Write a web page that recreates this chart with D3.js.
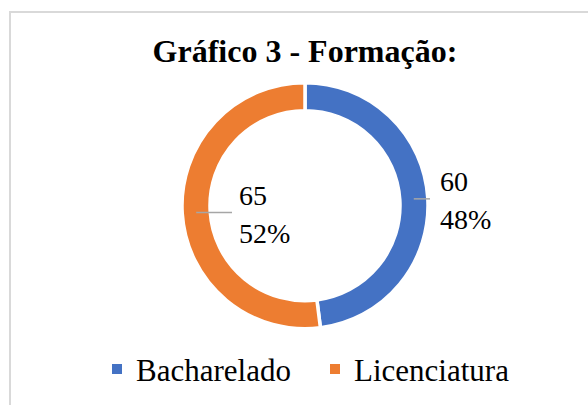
<!DOCTYPE html>
<html>
<head>
<meta charset="utf-8">
<script src="https://cdn.jsdelivr.net/npm/d3@7"></script>
<style>
  html, body { margin: 0; padding: 0; background: #fff; }
  text { font-family: 'Liberation Serif', 'Times New Roman', serif; }
</style>
</head>
<body>
<div id="chart"></div>
<script>
const title = 'Gráfico 3 - Formação:';
const categories = ['Bacharelado', 'Licenciatura'];
const values = [60, 65];
const colors = ['#4472C4', '#ED7D31'];

const width = 588;
const height = 405;
const cx = 305;
const cy = 205.7;
const outerR = 123;
const innerR = 95;

const total = values.reduce((a, b) => a + b, 0);
const color = d3.scaleOrdinal(categories, colors);

const svg = d3.select('#chart')
  .append('svg')
  .attr('width', width)
  .attr('height', height);

// chart area border
svg.append('rect')
  .attr('x', 10)
  .attr('y', 12)
  .attr('width', 600)
  .attr('height', 420)
  .attr('fill', 'none')
  .attr('stroke', '#D9D9D9')
  .attr('stroke-width', 2);

svg.append('text')
  .attr('x', cx)
  .attr('y', 62)
  .attr('text-anchor', 'middle')
  .style('font-size', '32px')
  .style('font-weight', 'bold')
  .attr('fill', '#000')
  .text(title);

const g = svg.append('g')
  .attr('transform', `translate(${cx},${cy})`);

const arc = d3.arc()
  .innerRadius(innerR)
  .outerRadius(outerR);

const pie = d3.pie()
  .value(d => d.value)
  .sort(null);

const slices = pie(categories.map((c, i) => ({ name: c, value: values[i] })));

g.selectAll('path')
  .data(slices)
  .enter()
  .append('path')
  .attr('d', arc)
  .attr('fill', d => color(d.data.name))
  .attr('stroke', '#fff')
  .attr('stroke-width', 3.5);

// label placement: where the leader line ends and where the text starts (x offset from centre)
const labelPlace = [
  { lineEnd: 125, textX: 135 },
  { lineEnd: -73, textX: -66 }
];

const midR = (innerR + outerR) / 2;
slices.forEach((d, i) => {
  const a = (d.startAngle + d.endAngle) / 2;
  const x0 = midR * Math.sin(a);
  const y0 = -midR * Math.cos(a);
  const p = labelPlace[i];
  g.append('line')
    .attr('x1', x0)
    .attr('y1', y0)
    .attr('x2', p.lineEnd)
    .attr('y2', y0)
    .attr('stroke', '#A6A6A6')
    .attr('stroke-width', 1.5);
  const t = g.append('text')
    .attr('x', p.textX)
    .attr('y', y0 - 7.5)
    .style('font-size', '28px')
    .attr('fill', '#000');
  t.append('tspan')
    .attr('x', p.textX)
    .text(d.data.value);
  t.append('tspan')
    .attr('x', p.textX)
    .attr('dy', 38)
    .text(d3.format('.0%')(d.data.value / total));
});

// legend
const legendX = [112, 330];
const legend = svg.append('g');
categories.forEach((c, i) => {
  legend.append('rect')
    .attr('x', legendX[i])
    .attr('y', 364)
    .attr('width', 10)
    .attr('height', 10)
    .attr('fill', color(c));
  legend.append('text')
    .attr('x', legendX[i] + 24)
    .attr('y', 381)
    .style('font-size', '31px')
    .attr('fill', '#000')
    .text(c);
});
</script>
</body>
</html>
